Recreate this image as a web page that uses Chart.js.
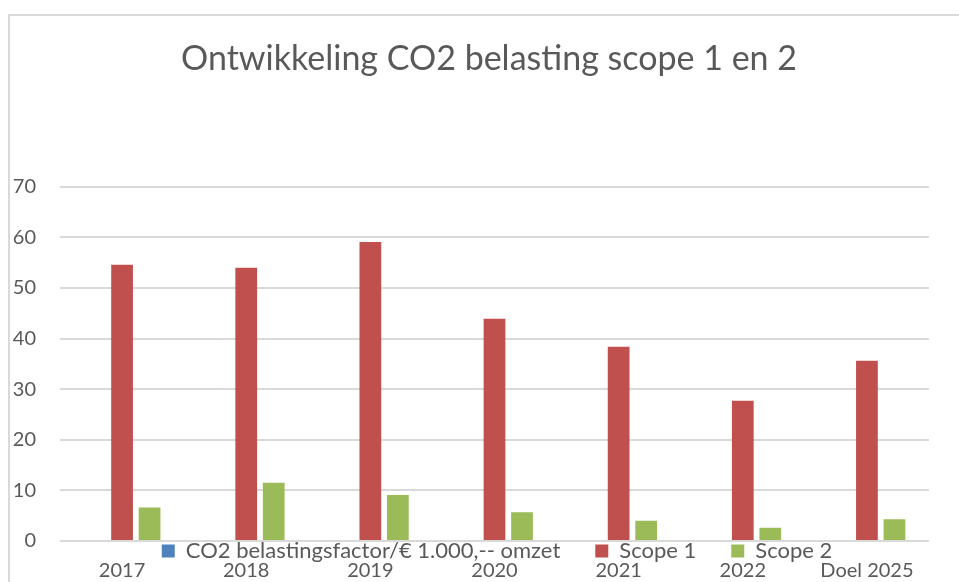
<!DOCTYPE html>
<html>
<head>
<meta charset="utf-8">
<script src="https://cdn.jsdelivr.net/npm/chart.js@4"></script>
<style>
  html, body { margin: 0; padding: 0; background: #ffffff; }
  #wrap { position: relative; width: 959px; height: 582px; }
</style>
</head>
<body>
<div id="wrap"><canvas id="c" width="959" height="582"></canvas></div>
<script>
const titleText = 'Ontwikkeling CO2 belasting scope 1 en 2';
const categories = ['2017', '2018', '2019', '2020', '2021', '2022', 'Doel 2025'];
const seriesNames = ['CO2 belastingsfactor/€ 1.000,-- omzet', 'Scope 1', 'Scope 2'];
const factorValues = [null, null, null, null, null, null, null];
const scope1Values = [54.6, 54.0, 59.1, 43.9, 38.4, 27.7, 35.6];
const scope2Values = [6.6, 11.5, 9.1, 5.7, 4.0, 2.6, 4.3];
const yTicks = [0, 10, 20, 30, 40, 50, 60, 70];

const TEXT = '#595959';
const GRID = '#d9d9d9';
const FONT = 'Lato';

const borderPlugin = {
  id: 'frame',
  beforeDraw(chart) {
    const ctx = chart.ctx;
    ctx.save();
    ctx.fillStyle = '#ffffff';
    ctx.fillRect(0, 0, chart.width, chart.height);
    ctx.strokeStyle = GRID;
    ctx.lineWidth = 2;
    ctx.strokeRect(9, 15, 1000, 1000);
    ctx.restore();
  }
};

// Title and legend are centred on the framed chart box, legend sits between axis and tick labels
const boxMove = {
  id: 'boxMove',
  afterLayout(chart) {
    const tb = chart.titleBlock;
    if (tb) { tb.left = 19; tb.right = 959; tb.width = 940; }
    const lg = chart.legend;
    if (lg) {
      lg.left = 27; lg.right = 967; lg.width = 940;
      lg.top = 505; lg.bottom = 505 + 75; lg.height = 75;
    }
  }
};

new Chart(document.getElementById('c'), {
  type: 'bar',
  data: {
    labels: categories,
    datasets: [
      { label: seriesNames[0], data: factorValues, backgroundColor: '#4f81bd' },
      { label: seriesNames[1], data: scope1Values, backgroundColor: '#c0504d' },
      { label: seriesNames[2], data: scope2Values, backgroundColor: '#9bbb59' }
    ]
  },
  options: {
    responsive: false,
    animation: false,
    devicePixelRatio: 1,
    layout: { padding: { left: 0, right: 30, top: 0, bottom: 0 } },
    datasets: { bar: { categoryPercentage: 0.665, barPercentage: 0.79 } },
    plugins: {
      title: {
        display: true,
        text: titleText,
        color: TEXT,
        font: { family: FONT, size: 34, weight: 'normal' },
        padding: { top: 39, bottom: 107 }
      },
      legend: {
        display: true,
        position: 'bottom',
        maxHeight: 1,
        labels: {
          color: TEXT,
          font: { family: FONT, size: 22 },
          boxWidth: 13,
          boxHeight: 13,
          padding: 35
        }
      },
      tooltip: { enabled: false }
    },
    scales: {
      x: {
        grid: { display: false, drawTicks: false },
        border: { display: false },
        ticks: { color: TEXT, font: { family: FONT, size: 20 }, padding: 18, maxRotation: 0, autoSkip: false },
        afterFit(scale) { scale.height = 40; }
      },
      y: {
        min: 0,
        max: 70,
        afterBuildTicks(scale) { scale.ticks = yTicks.map(v => ({ value: v })); },
        grid: { color: GRID, lineWidth: 2, drawTicks: false },
        border: { display: false },
        ticks: { color: TEXT, font: { family: FONT, size: 20 }, padding: 24 },
        afterFit(scale) { scale.width = 60; }
      }
    }
  },
  plugins: [borderPlugin, boxMove]
});
</script>
</body>
</html>
